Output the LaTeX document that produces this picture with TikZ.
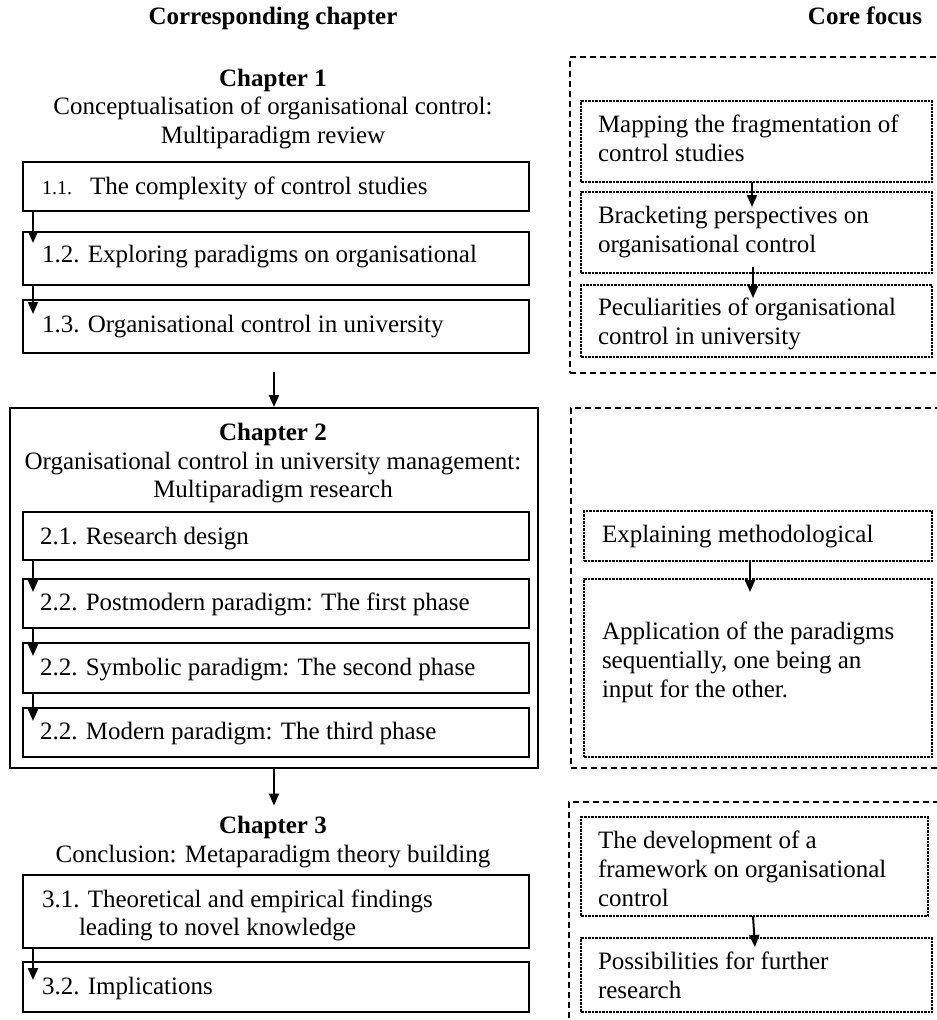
\documentclass[tikz,border=0pt]{standalone}
\usepackage{fontspec}
\setmainfont{Liberation Serif}
\usetikzlibrary{arrows.meta}

\begin{document}
\begin{tikzpicture}[x=1pt,y=-1pt,
  every node/.style={inner sep=0pt, outer sep=0pt},
  txt/.style={font=\fontsize{25}{28.75}\selectfont, anchor=base west},
  smalltxt/.style={font=\fontsize{20}{24}\selectfont, anchor=base west},
  head/.style={font=\fontsize{25}{28.75}\selectfont, anchor=base},
  bhead/.style={font=\fontsize{25}{28.75}\selectfont\bfseries, anchor=base},
  solidbox/.style={draw, line width=1.5pt, anchor=north west},
  chapbox/.style={draw, line width=2pt, anchor=north west},
  outerbox/.style={draw, line width=1.3pt, dash pattern=on 6pt off 4pt, anchor=north west},
  focusbox/.style={draw, line width=1.3pt, dash pattern=on 2.5pt off 1pt, anchor=north west},
  arr/.style={line width=2pt, -{Triangle[length=12pt,width=10pt]}},
]
\useasboundingbox (0,0) rectangle (937,1020);
\clip (0,0) rectangle (937,1020);
\fill[white] (0,0) rectangle (937,1020);

% column headings
\node[bhead] (hleft) at (273,24) {Corresponding chapter};
\node[bhead] (hright) at (865,24) {Core focus};

% ---------------- Chapter 1 ----------------
\node[bhead] (c1a) at (273,86) {Chapter 1};
\node[head] (c1b) at (273,114.5) {Conceptualisation of organisational control:};
\node[head] (c1c) at (273,143) {Multiparadigm review};

\node[solidbox, minimum width=506pt, minimum height=49pt] (b11) at (23,162) {};
\node[solidbox, minimum width=506pt, minimum height=53pt] (b12) at (23,232) {};
\node[solidbox, minimum width=506pt, minimum height=53pt] (b13) at (23,300) {};
\node[smalltxt] (t11a) at (42,194) {1.1.};
\node[txt] (t11b) at (90,194) {The complexity of control studies};
\node[txt] (t12) at (42,262) {1.2. Exploring paradigms on organisational};
\node[txt] (t13) at (42,332) {1.3. Organisational control in university};
\draw[arr] ([xshift=10pt]b11.south west) -- ([xshift=10pt,yshift=-11pt]b12.north west);
\draw[arr] ([xshift=10pt]b12.south west) -- ([xshift=10pt,yshift=-14pt]b13.north west);

\node[outerbox, minimum width=400pt, minimum height=316pt] (f1) at (570,57) {};
\node[focusbox, minimum width=351pt, minimum height=81pt] (f11) at (581,101) {};
\node[focusbox, minimum width=351pt, minimum height=81pt] (f12) at (581,192) {};
\node[focusbox, minimum width=351pt, minimum height=72pt] (f13) at (581,285) {};
\node[txt] (tf11a) at (598,132) {Mapping the fragmentation of};
\node[txt] (tf11b) at (598,161) {control studies};
\node[txt] (tf12a) at (598,223) {Bracketing perspectives on};
\node[txt] (tf12b) at (598,252) {organisational control};
\node[txt] (tf13a) at (598,315) {Peculiarities of organisational};
\node[txt] (tf13b) at (598,344) {control in university};
\draw[arr] ([xshift=-4.5pt]f11.south) -- ([xshift=-4.5pt,yshift=-15pt]f12.north);
\draw[arr] ([xshift=-3.5pt,yshift=6pt]f12.south) -- ([xshift=-3.5pt,yshift=-13pt]f13.north);

% ---------------- Chapter 2 ----------------
\coordinate (c1end) at (274,372);
\node[chapbox, minimum width=528pt, minimum height=360pt] (ch2) at (10,408) {};
\draw[arr] (c1end) -- ([yshift=1pt]ch2.north);

\node[bhead] (c2a) at (273,440) {Chapter 2};
\node[head] (c2b) at (273,469) {Organisational control in university management:};
\node[head] (c2c) at (273,497) {Multiparadigm research};

\node[solidbox, minimum width=506pt, minimum height=48pt] (b21) at (23,512) {};
\node[solidbox, minimum width=506pt, minimum height=49pt] (b22) at (23,579) {};
\node[solidbox, minimum width=506pt, minimum height=50pt] (b23) at (23,643) {};
\node[solidbox, minimum width=506pt, minimum height=49pt] (b24) at (23,708) {};
\node[txt] (t21) at (40,544) {2.1. Research design};
\node[txt] (t22) at (40,610) {2.2. Postmodern paradigm: The first phase};
\node[txt] (t23) at (40,675) {2.2. Symbolic paradigm: The second phase};
\node[txt] (t24) at (40,739) {2.2. Modern paradigm: The third phase};
\draw[arr] ([xshift=10pt]b21.south west) -- ([xshift=10pt,yshift=-13pt]b22.north west);
\draw[arr] ([xshift=10pt]b22.south west) -- ([xshift=10pt,yshift=-13pt]b23.north west);
\draw[arr] ([xshift=10pt]b23.south west) -- ([xshift=10pt,yshift=-13pt]b24.north west);

\node[outerbox, minimum width=400pt, minimum height=360pt] (f2) at (571,408) {};
\node[focusbox, minimum width=348pt, minimum height=50pt] (f21) at (584,511) {};
\node[focusbox, minimum width=348pt, minimum height=178pt] (f22) at (584,579) {};
\node[txt] (tf21) at (602,542) {Explaining methodological};
\node[txt] (tf22a) at (602,639) {Application of the paradigms};
\node[txt] (tf22b) at (602,668) {sequentially, one being an};
\node[txt] (tf22c) at (602,697) {input for the other.};
\draw[arr] ([xshift=-8pt]f21.south) -- ([xshift=-8pt,yshift=-13pt]f22.north);

% ---------------- Chapter 3 ----------------
\node[bhead] (c3a) at (273,833) {Chapter 3};
\node[head] (c3b) at (273,862) {Conclusion: Metaparadigm theory building};
\draw[arr] (ch2.south) -- ([xshift=1pt,yshift=10pt]c3a.north);

\node[solidbox, minimum width=506pt, minimum height=73pt] (b31) at (23,875) {};
\node[solidbox, minimum width=506pt, minimum height=50pt] (b32) at (23,962) {};
\node[txt] (t31a) at (42,907) {3.1. Theoretical and empirical findings};
\node[txt] (t31b) at (79,935) {leading to novel knowledge};
\node[txt] (t32) at (42,994) {3.2. Implications};
\draw[arr] ([xshift=10pt]b31.south west) -- ([xshift=10pt,yshift=-18pt]b32.north west);

\node[outerbox, minimum width=400pt, minimum height=260pt] (f3) at (569,802) {};
\node[focusbox, minimum width=347pt, minimum height=99pt] (f31) at (581,817) {};
\node[focusbox, minimum width=351pt, minimum height=74pt] (f32) at (581,938) {};
\node[txt] (tf31a) at (598,848) {The development of a};
\node[txt] (tf31b) at (598,877) {framework on organisational};
\node[txt] (tf31c) at (598,906) {control};
\node[txt] (tf32a) at (598,969) {Possibilities for further};
\node[txt] (tf32b) at (598,998) {research};
\draw[arr] ([xshift=-1.5pt]f31.south) -- ([xshift=-1.5pt,yshift=-9pt]f32.north);
\end{tikzpicture}
\end{document}
